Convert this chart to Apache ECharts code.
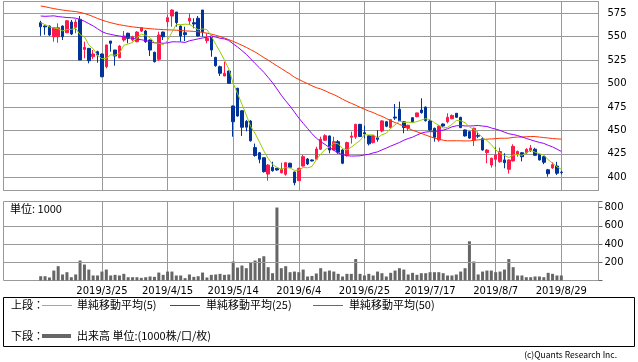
<!DOCTYPE html>
<html><head><meta charset="utf-8">
<script src="https://cdn.jsdelivr.net/npm/echarts@6/dist/echarts.min.js"></script>
<style>html,body{margin:0;padding:0;background:#fff;}#c{width:638px;height:362px;}</style>
</head><body><div id="c"></div>
<script>
const dates = [
'2019/3/4','2019/3/5','2019/3/6','2019/3/7','2019/3/8','2019/3/11','2019/3/12','2019/3/13','2019/3/14','2019/3/15',
'2019/3/18','2019/3/19','2019/3/20','2019/3/22','2019/3/25','2019/3/26','2019/3/27','2019/3/28','2019/3/29',
'2019/4/1','2019/4/2','2019/4/3','2019/4/4','2019/4/5','2019/4/8','2019/4/9','2019/4/10','2019/4/11','2019/4/12',
'2019/4/15','2019/4/16','2019/4/17','2019/4/18','2019/4/19','2019/4/22','2019/4/23','2019/4/24','2019/4/25','2019/4/26',
'2019/5/7','2019/5/8','2019/5/9','2019/5/10','2019/5/13','2019/5/14','2019/5/15','2019/5/16','2019/5/17','2019/5/20',
'2019/5/21','2019/5/22','2019/5/23','2019/5/24','2019/5/27','2019/5/28','2019/5/29','2019/5/30','2019/5/31',
'2019/6/3','2019/6/4','2019/6/5','2019/6/6','2019/6/7','2019/6/10','2019/6/11','2019/6/12','2019/6/13','2019/6/14',
'2019/6/17','2019/6/18','2019/6/19','2019/6/20','2019/6/21','2019/6/24','2019/6/25','2019/6/26','2019/6/27','2019/6/28',
'2019/7/1','2019/7/2','2019/7/3','2019/7/4','2019/7/5','2019/7/8','2019/7/9','2019/7/10','2019/7/11','2019/7/12',
'2019/7/16','2019/7/17','2019/7/18','2019/7/19','2019/7/22','2019/7/23','2019/7/24','2019/7/25','2019/7/26',
'2019/7/29','2019/7/30','2019/7/31','2019/8/1','2019/8/2','2019/8/5','2019/8/6','2019/8/7','2019/8/8','2019/8/9',
'2019/8/13','2019/8/14','2019/8/15','2019/8/16','2019/8/19','2019/8/20','2019/8/21','2019/8/22','2019/8/23',
'2019/8/26','2019/8/27','2019/8/28','2019/8/29'];

const tickLabels = ['2019/3/25','2019/4/15','2019/5/14','2019/6/4','2019/6/25','2019/7/17','2019/8/7','2019/8/29'];
const priceTicks = [400, 425, 450, 475, 500, 525, 550, 575];
const volumeTicks = [200, 400, 600, 800];
const volumeGridValues = [200, 400, 600];

const opens = [565,561.5,561.4,550,550,561.4,554.3,565.7,560.1,568.6,
536.5,537.6,528.7,534,531.6,518,545.4,535.8,527.6,546.5,
553.7,546.5,544.7,556.1,556.1,546.5,533.4,525.9,555,566,
572.1,576.4,561.4,554.3,566.8,565,569.7,578.5,545.8,550.8,
528,518,508.1,513.4,476.1,495,471,459.7,460,431.7,
426.2,420.9,403.4,410.7,409.6,404.9,403.2,415,405.7,396.4,
412,419.5,418.5,419.3,429.9,439.5,444.1,429.1,438,429.1,
423.5,442.7,443,456.5,447.6,444.2,437,442.3,449.4,459.3,
453,464.3,472.6,459.3,452.5,463.6,464.7,471.8,474.9,460.1,
452.3,439.8,456.9,459.3,462.5,468.3,464,450.5,448.7,439.8,
444.5,441.2,426.3,413.1,419.2,416.6,418.5,408.5,417.4,424.5,
426.2,426.2,428.5,430,424.4,422,408,410,412,405.5];
const closes = [560.7,560.5,551.8,559.6,559.6,550,567.1,552.9,565.7,525.2,
538.7,524.4,531.6,530.5,507.3,541.2,543,529.4,540.1,550.8,
548.3,550,555,559.6,544.7,535.8,523.4,551.8,550,570.3,
578.5,565,550.8,552.2,569.7,563.6,550.8,555.4,548.3,535.8,
519.1,511,511,500.3,459.3,465.4,453.4,453.5,439,423.2,
419.2,406,413.1,407,407.8,408.5,415.6,410.7,394.2,409.6,
422,414.2,417.4,430.2,440.5,444.4,429.1,438,426.7,415,
437,444,456.5,443.5,446.3,435.7,444.4,440.5,460.2,454.5,
461.5,463.2,460.4,453.2,455.5,459.3,468.7,468.9,460.4,450.5,
442.7,454.7,454.7,464,466,464,453,444.1,441.8,452.3,
443.8,429.1,429.1,420.3,423.8,427.5,415.6,418.5,433,427.5,
422,429.9,431.2,423.5,418.5,416,403.8,413.5,404.3,405];
const lows = [551,552,551,544.7,543.6,546.5,554,551.8,553.7,525,
527,521.6,526.2,522.3,506.7,516.3,534,519.1,527,544.7,
543,545,544,555,543.6,529.4,522.5,524.1,546.5,560.7,
560.7,560.7,544.7,545.4,562.5,559,550,550,543,528.7,
518,508.1,508,500,443.3,464.7,444.1,449,438,422,
415,405,396.4,406,407,404,401.7,410,391.5,396,
411.3,413,417,419,429.5,439,425.6,428.7,425,414,
422,436,441,443,441.5,434,436,438,448,453.5,
452,461.2,460,447,449.5,458.5,464,468,459.5,449.5,
438,438,454,457.6,462,463.5,452.5,443.5,441,433.4,
441.8,428.5,415,410.3,411.3,415.6,409.6,404,417,422,
417,425,427,423,418,414,400.6,409,402.5,403];
const highs = [567,562,562,560,564.3,562,567.5,567.9,568.6,572.1,
544.7,538,535.8,535.1,532,541.5,545.5,536,541,556.1,
554.3,551,556,560,557.2,547,534,555.4,555.5,573.2,
579.3,576.4,562,560.7,575,569.7,572.1,578.5,553.7,551,
528.5,519.1,523.4,514,476.5,495.5,471.5,461,461,436,
427,421,414,416.6,410,415.6,416,415.5,406,410,
423.8,420.5,419,432.6,443.3,445.9,444.5,443.3,439.8,430,
438,448.7,457,457,455,445,445,450.4,461,460,
462,478.2,480.7,460,456,464,469,484.3,475.5,461,
453,455.5,457.5,468.3,467,468.5,464.5,451,449,453,
448.7,443,430,421,432.6,431.6,425.6,419,435.2,428.5,
427,431,434.5,431.5,425,423,409,416,416.5,407];
const volumes = [47,47,33,109,157,66,91,36,66,219,
175,120,55,55,98,120,55,62,55,73,
36,36,36,29,36,44,40,87,62,98,
98,55,55,26,66,40,47,87,33,62,
66,73,62,66,208,142,164,135,193,219,
244,266,146,80,800,135,157,91,98,91,
120,44,50,77,135,98,109,98,73,44,
73,73,235,73,55,73,55,98,80,44,
84,109,135,120,66,84,62,80,80,91,
91,91,80,55,55,66,98,135,430,208,
66,98,109,109,91,98,120,235,146,55,
55,36,36,44,44,36,84,73,55,55];
const ma5 = [565,563,560.5,559.5,558.44,556.3,557.62,557.84,559.06,552.18,
549.92,541.38,537.12,530.08,526.5,527,530.72,530.28,532.2,540.9,
542.32,543.72,548.84,552.74,551.52,549.02,543.7,543.06,541.14,546.26,
554.8,563.12,562.92,563.36,563.24,560.26,557.42,558.34,557.56,550.78,
541.88,533.92,525.04,515.44,500.14,489.4,477.88,466.38,454.12,446.9,
437.66,428.18,420.1,413.7,410.62,408.48,410.4,409.92,407.36,407.72,
410.42,410.14,411.48,418.68,424.86,429.34,432.32,436.44,435.74,430.64,
429.16,432.14,435.84,439.2,445.46,445.2,445.28,442.08,445.42,447.06,
452.22,455.98,459.96,458.56,458.76,458.32,459.42,461.12,462.56,461.56,
458.24,455.44,452.6,453.32,456.42,460.68,460.34,458.22,453.78,451.04,
447,442.22,439.22,434.92,429.22,425.96,423.26,421.14,423.68,424.42,
423.32,426.18,428.72,426.82,425.02,423.82,418.6,415.06,411.22,408.52];
const ma25 = [572.1,571.8,572,572.3,571.5,571,570.5,570.3,569.8,568.5,
566.5,564,561.5,558.5,555.5,553.5,552.5,551.5,550.8,550,
549,548.3,547.5,546.8,545.91,544.91,543.43,543.43,543.04,543.47,
544.61,544.53,544.44,543.9,545.68,546.68,547.74,548.69,549.4,550.54,
549.66,548.38,547.64,546.05,542.39,539.07,535.21,531.15,526.32,521.46,
516.8,512.1,506.56,500.84,494.34,487.54,481.56,475.96,469.64,463.23,
457.57,452.1,446.58,441.86,438.05,435.06,431.78,428.86,425.92,424.15,
423.01,422.64,422.76,422.94,423.86,424.52,426.06,427.15,429.28,431.15,
433.27,435.17,437.16,439.52,441.36,442.85,445.03,447.09,448.3,448.7,
448.63,449.65,450.32,451.81,453.85,454.93,455.29,454.8,454.73,454.97,
455.29,454.68,454.22,452.63,451.4,450.04,448.14,446.46,445.65,444.53,
443.04,441.49,439.98,438.5,437.22,436.16,434.12,432.47,430.08,427.64];
const ma50 = [582.8,582,581,580,579.2,578.5,577.8,577.3,576.8,576,
574.8,573.3,571.5,569.5,567.8,566.3,565,563.8,562.8,562,
561.2,560.5,560,559.5,559,558.6,558.2,557.9,557.6,557.4,
557.2,557,556.6,556.3,556,555.7,555.3,554.6,553.8,552.8,
551.6,550.2,548.6,546.9,545,543,540.9,538.6,536.2,533.69,
530.86,527.77,524.99,521.94,518.9,516.07,513.04,510.2,506.77,504.46,
502.12,499.92,497.64,495.63,494.29,492.36,490.08,488.25,485.98,483.27,
481.04,478.92,476.95,474.63,472.66,470.66,469.08,466.85,465.06,462.74,
460.4,458.37,456.56,454.58,452.29,450.21,448.57,446.84,445.08,443.37,
441.84,440.72,439.59,438.87,439,438.97,438.96,438.78,438.83,439.41,
439.91,440.37,440.69,440.95,441.27,441.65,441.65,441.81,442.59,442.94,
442.94,443.26,443.53,443.4,442.96,442.39,441.89,441.4,440.95,440.75];

const legendTop = '上段：';
const legendBottom = '下段：';
const legendNames = ['単純移動平均(5)', '単純移動平均(25)', '単純移動平均(50)'];
const volumeLegend = '出来高 単位:(1000株/口/枚)';
const unitText = '単位: 1000';
const copyright = '(c)Quants Research Inc.';

// layout-only padding slots on both sides of the trading days
const padBefore = Array.from({length: 8}, (_, i) => 'pre' + i);
const padAfter = Array.from({length: 8}, (_, i) => 'post' + i);
const categories = padBefore.concat(dates, padAfter);
const tickSet = new Set(tickLabels);
const showTick = (idx, val) => tickSet.has(val);

const UP = '#ff1a4b', DOWN = '#003399';
const C5 = '#99cc00', C25 = '#9900ff', C50 = '#ff3300';
const GRID = '#999999';
const NUMFONT = 'DejaVu Sans';
const JPFONT = '"Noto Sans CJK JP"';

const candleData = dates.map((d, i) => [d, opens[i], closes[i], lows[i], highs[i]]);
const pair = arr => dates.map((d, i) => [d, arr[i]]);

const chart = echarts.init(document.getElementById('c'), null, {renderer: 'canvas'});
chart.setOption({
  animation: false,
  backgroundColor: '#fff',
  textStyle: {fontFamily: NUMFONT},
  grid: [
    {left: 3.5, top: 1.5, width: 595, height: 189, show: true, borderColor: GRID, borderWidth: 1, backgroundColor: 'transparent'},
    {left: 3.5, top: 201.5, width: 595, height: 79, show: true, borderColor: GRID, borderWidth: 1, backgroundColor: 'transparent'}
  ],
  xAxis: [
    {type: 'category', gridIndex: 0, data: categories, boundaryGap: true,
     axisLine: {show: false}, axisTick: {show: false}, axisLabel: {show: false},
     splitLine: {show: true, interval: showTick, alignWithLabel: true, lineStyle: {color: GRID, width: 1}}},
    {type: 'category', gridIndex: 1, data: categories, boundaryGap: true,
     axisLine: {show: false}, axisTick: {show: false},
     axisLabel: {show: true, interval: showTick, margin: 6, fontSize: 10, color: '#000', fontFamily: NUMFONT},
     splitLine: {show: true, interval: showTick, alignWithLabel: true, lineStyle: {color: GRID, width: 1}}}
  ],
  yAxis: [
    {type: 'value', gridIndex: 0, position: 'right', min: 385.9, max: 587.6,
     minInterval: 25, maxInterval: 25, splitNumber: 8,
     axisLine: {show: false}, axisTick: {show: false},
     axisLabel: {margin: 9, fontSize: 10, color: '#000', fontFamily: NUMFONT,
       formatter: v => priceTicks.includes(Math.round(v * 1000) / 1000) ? String(v) : ''},
     splitLine: {show: true, lineStyle: {color: GRID, width: 1}}},
    {type: 'value', gridIndex: 1, position: 'right', min: 0, max: 866,
     minInterval: 200, maxInterval: 200, splitNumber: 4,
     axisLine: {show: false}, axisTick: {show: true, length: 4, lineStyle: {color: '#666'}},
     axisLabel: {margin: 6, fontSize: 10, color: '#000', fontFamily: NUMFONT,
       formatter: v => volumeTicks.includes(v) ? String(v) : ''},
     splitLine: {show: false}}
  ],
  series: [
    {type: 'candlestick', xAxisIndex: 0, yAxisIndex: 0, data: candleData,
     encode: {x: 0, y: [1, 2, 3, 4]}, barWidth: 3,
     itemStyle: {color: UP, color0: DOWN, borderColor: UP, borderColor0: DOWN, borderWidth: 1}},
    {type: 'line', xAxisIndex: 0, yAxisIndex: 0, data: pair(ma50), showSymbol: false, symbol: 'none',
     lineStyle: {color: C50, width: 1}, z: 3},
    {type: 'line', xAxisIndex: 0, yAxisIndex: 0, data: pair(ma25), showSymbol: false, symbol: 'none',
     lineStyle: {color: C25, width: 1}, z: 3},
    {type: 'line', xAxisIndex: 0, yAxisIndex: 0, data: pair(ma5), showSymbol: false, symbol: 'none',
     lineStyle: {color: C5, width: 1}, z: 3},
    {type: 'bar', xAxisIndex: 1, yAxisIndex: 1, data: pair(volumes), barWidth: 3,
     itemStyle: {color: '#666666'},
     markLine: {silent: true, symbol: 'none', label: {show: false},
       lineStyle: {color: GRID, width: 1, type: 'solid'},
       data: volumeGridValues.map(v => ({yAxis: v}))}}
  ],
  graphic: [
    {type: 'text', x: 10, y: 209, style: {text: unitText, fontSize: 11, fontFamily: JPFONT, fill: '#000', verticalAlign: 'middle'}},
    {type: 'rect', shape: {x: 3.5, y: 297.5, width: 631, height: 49}, style: {fill: 'none', stroke: '#000', lineWidth: 1}},
    {type: 'text', x: 11, y: 305, style: {text: legendTop, fontSize: 11, fontFamily: JPFONT, fill: '#000', verticalAlign: 'middle'}},
    {type: 'line', shape: {x1: 42, y1: 305.5, x2: 72, y2: 305.5}, style: {stroke: C5, lineWidth: 1}},
    {type: 'text', x: 77, y: 305, style: {text: legendNames[0], fontSize: 11, fontFamily: JPFONT, fill: '#000', verticalAlign: 'middle'}},
    {type: 'line', shape: {x1: 170, y1: 305.5, x2: 200, y2: 305.5}, style: {stroke: C25, lineWidth: 1}},
    {type: 'text', x: 206, y: 305, style: {text: legendNames[1], fontSize: 11, fontFamily: JPFONT, fill: '#000', verticalAlign: 'middle'}},
    {type: 'line', shape: {x1: 313, y1: 305.5, x2: 343, y2: 305.5}, style: {stroke: C50, lineWidth: 1}},
    {type: 'text', x: 349, y: 305, style: {text: legendNames[2], fontSize: 11, fontFamily: JPFONT, fill: '#000', verticalAlign: 'middle'}},
    {type: 'text', x: 11, y: 336, style: {text: legendBottom, fontSize: 11, fontFamily: JPFONT, fill: '#000', verticalAlign: 'middle'}},
    {type: 'line', shape: {x1: 42, y1: 336, x2: 71, y2: 336}, style: {stroke: '#666666', lineWidth: 4}},
    {type: 'text', x: 77, y: 336, style: {text: volumeLegend, fontSize: 11, fontFamily: JPFONT, fill: '#000', verticalAlign: 'middle'}},
    {type: 'text', x: 617, y: 355, style: {text: copyright, fontSize: 8.5, fontFamily: JPFONT, fill: '#000', align: 'right', verticalAlign: 'middle'}}
  ]
});
</script></body></html>
